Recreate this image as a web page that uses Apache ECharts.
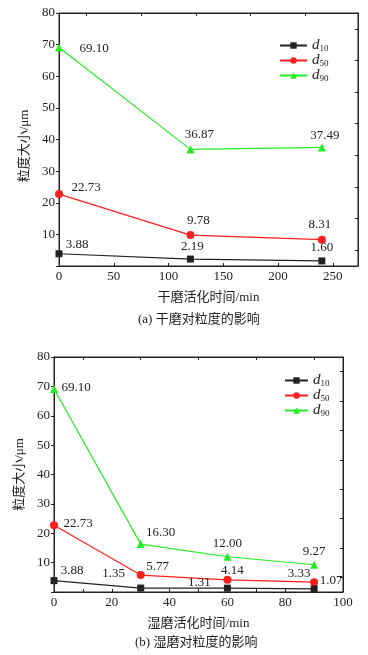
<!DOCTYPE html>
<html lang="zh">
<head>
<meta charset="UTF-8">
<script src="https://cdn.jsdelivr.net/npm/echarts@6/dist/echarts.min.js"></script>
<style>
  html, body { margin: 0; padding: 0; background: #fff; }
  #main { width: 368px; height: 655px; }
</style>
</head>
<body>
<div id="main"></div>
<script>
  // (a) 干磨
  var dryTime = [0, 120, 240];
  var dryD10 = [3.88, 2.19, 1.60];
  var dryD50 = [22.73, 9.78, 8.31];
  var dryD90 = [69.10, 36.87, 37.49];
  // (b) 湿磨
  var wetTime = [0, 30, 60, 90];
  var wetD10 = [3.88, 1.35, 1.31, 1.07];
  var wetD50 = [22.73, 5.77, 4.14, 3.33];
  var wetD90 = [69.10, 16.30, 12.00, 9.27];

  var seriesNames = ['d10', 'd50', 'd90'];

  // 数值标签相对于点的偏移
  var dryOff10 = [[18, -9], [2, -12], [0, -13]];
  var dryOff50 = [[27, -7], [8, -14], [-2, -15]];
  var dryOff90 = [[35, 1], [9, -15], [3, -12]];
  var wetOff10 = [[18, -10], [-27, -14], [-28, -6], [17, -8]];
  var wetOff50 = [[24, -2], [17, -8], [5, -9], [-15, -9]];
  var wetOff90 = [[22, -1], [20, -12], [0, -13], [0, -13]];

  var serif = "'Liberation Serif', 'Noto Sans CJK SC', serif";
  var ink = '#222';
  var colors = { d10: '#222222', d50: '#ff1f1f', d90: '#22ee22' };
  var symbols = { d10: 'rect', d50: 'circle', d90: 'triangle' };
  var sizes = { d10: 7, d50: 8, d90: 8 };

  var makeSeries = function (name, xs, ys, offs, gridIdx) {
    var data = [];
    for (var i = 0; i < xs.length; i++) {
      data.push({ value: [xs[i], ys[i]], label: { offset: offs[i] } });
    }
    return {
      name: name,
      type: 'line',
      xAxisIndex: gridIdx * 2,
      yAxisIndex: gridIdx * 2,
      data: data,
      symbol: symbols[name],
      symbolSize: sizes[name],
      showAllSymbol: true,
      color: colors[name],
      lineStyle: { width: 1.2, color: colors[name] },
      itemStyle: { color: colors[name] },
      label: {
        show: true,
        position: 'inside',
        align: 'center',
        verticalAlign: 'middle',
        color: ink,
        fontSize: 13,
        fontFamily: serif,
        formatter: function (p) { return p.value[1].toFixed(2); }
      },
      emphasis: { disabled: true },
      animation: false,
      z: name === 'd10' ? 4 : 3
    };
  };

  var xAxisBase = function (gridIdx, max, interval, minor, name) {
    return {
      type: 'value',
      gridIndex: gridIdx,
      position: 'bottom',
      min: 0,
      max: max,
      interval: interval,
      name: name,
      nameLocation: 'middle',
      nameGap: 25,
      nameTextStyle: { color: ink, fontSize: 13, fontFamily: serif },
      axisLine: { show: true, onZero: false, lineStyle: { color: ink, width: 1 } },
      axisTick: { show: true, inside: true, length: 3, lineStyle: { color: ink } },
      minorTick: { show: minor, splitNumber: 2, length: 3, lineStyle: { color: ink } },
      axisLabel: {
        color: ink, fontSize: 13, fontFamily: serif, margin: 4,
        formatter: function (v) { return v % interval === 0 ? v : ''; }
      },
      splitLine: { show: false }
    };
  };

  // 上边框：只在两个主刻度中间有向内的短刻度
  var xAxisTop = function (gridIdx, max, interval) {
    return {
      type: 'value',
      gridIndex: gridIdx,
      position: 'top',
      min: 0,
      max: max,
      interval: interval,
      axisLine: { show: true, onZero: false, lineStyle: { color: ink, width: 1 } },
      axisTick: { show: true, inside: true, length: 0 },
      minorTick: { show: true, splitNumber: 2, length: 3, lineStyle: { color: ink } },
      axisLabel: { show: false },
      splitLine: { show: false }
    };
  };

  var yAxisLeft = function (gridIdx, gap, shift) {
    return {
      type: 'value',
      gridIndex: gridIdx,
      position: 'left',
      min: 0,
      max: 80,
      interval: 10,
      name: '粒度大小/μm',
      nameLocation: 'middle',
      nameGap: gap,
      nameTextStyle: { color: ink, fontSize: 13, fontFamily: serif, padding: [0, shift, 0, 0] },
      axisLine: { show: true, onZero: false, lineStyle: { color: ink, width: 1 } },
      axisTick: { show: true, length: 3, lineStyle: { color: ink } },
      axisLabel: {
        color: ink, fontSize: 13, fontFamily: serif, margin: 4,
        formatter: function (v) { return v === 0 ? '' : v; }
      },
      splitLine: { show: false }
    };
  };

  // 右边框：刻度在 5、15、25…
  var yAxisRight = function (gridIdx) {
    return {
      type: 'value',
      gridIndex: gridIdx,
      position: 'right',
      min: 0,
      max: 80,
      interval: 10,
      axisLine: { show: true, onZero: false, lineStyle: { color: ink, width: 1 } },
      axisTick: { show: true, inside: true, length: 0 },
      minorTick: { show: true, splitNumber: 2, length: 3, lineStyle: { color: ink } },
      axisLabel: { show: false },
      splitLine: { show: false }
    };
  };

  var legendBase = function (left, top, w) {
    return {
      data: seriesNames,
      orient: 'vertical',
      left: left,
      top: top,
      itemWidth: w,
      itemHeight: 8,
      itemGap: 0,
      selectedMode: false,
      formatter: function (n) { return '{i|d}{s|' + n.slice(1) + '}'; },
      textStyle: {
        color: ink,
        rich: {
          i: { fontFamily: serif, fontStyle: 'italic', fontSize: 15, color: ink },
          s: { fontFamily: serif, fontSize: 9, color: ink, padding: [6, 0, 0, 0] }
        }
      }
    };
  };

  var chart = echarts.init(document.getElementById('main'));
  chart.setOption({
    backgroundColor: '#fff',
    animation: false,
    grid: [
      { left: 59, top: 13, width: 299, height: 253, show: true, borderColor: ink, borderWidth: 1, backgroundColor: '#fff' },
      { left: 54, top: 357, width: 289, height: 235, show: true, borderColor: ink, borderWidth: 1, backgroundColor: '#fff' }
    ],
    xAxis: [
      xAxisBase(0, 273, 50, false, '干磨活化时间/min'),
      xAxisTop(0, 273, 50),
      xAxisBase(1, 100, 20, true, '湿磨活化时间/min'),
      xAxisTop(1, 100, 20)
    ],
    yAxis: [yAxisLeft(0, 23, 13), yAxisRight(0), yAxisLeft(1, 28, 0), yAxisRight(1)],
    legend: [legendBase(274, 33, 27), legendBase(279, 368, 23)],
    graphic: [
      { type: 'text', left: 138, top: 313, style: { text: '(a) 干磨对粒度的影响', fill: ink, font: '13px ' + serif } },
      { type: 'text', left: 135, top: 636, style: { text: '(b) 湿磨对粒度的影响', fill: ink, font: '13px ' + serif } }
    ],
    series: [
      makeSeries('d10', dryTime, dryD10, dryOff10, 0),
      makeSeries('d50', dryTime, dryD50, dryOff50, 0),
      makeSeries('d90', dryTime, dryD90, dryOff90, 0),
      makeSeries('d10', wetTime, wetD10, wetOff10, 1),
      makeSeries('d50', wetTime, wetD50, wetOff50, 1),
      makeSeries('d90', wetTime, wetD90, wetOff90, 1)
    ]
  });
</script>
</body>
</html>
